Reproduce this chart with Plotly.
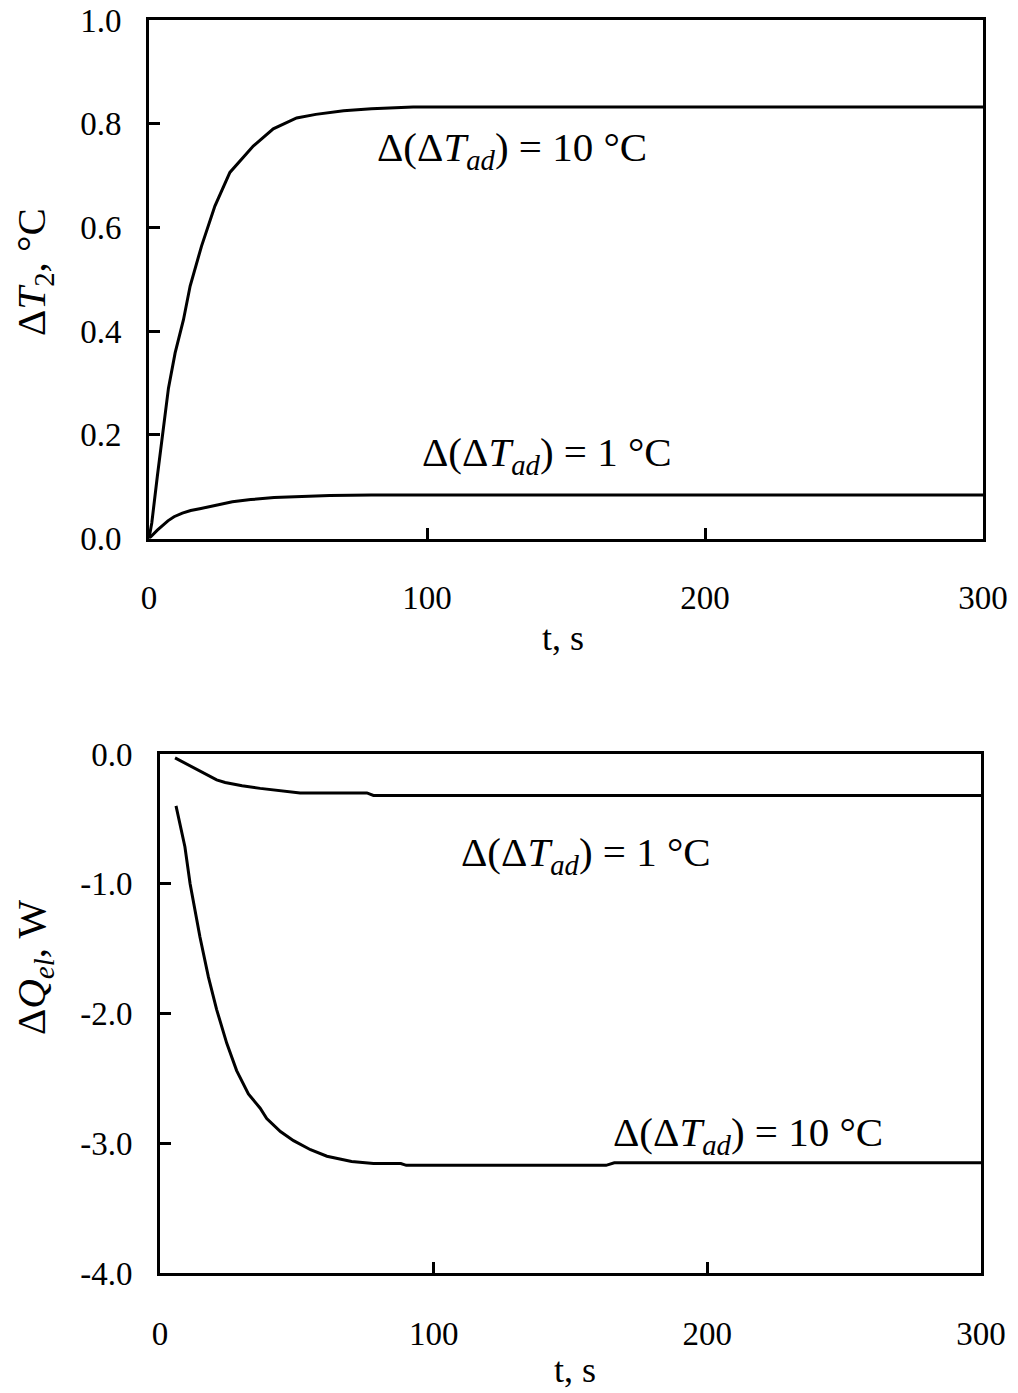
import plotly.graph_objects as go

W, H = 1018, 1393
OFF = 0  # body margin removed via post_script

# ---- data: top panel (ΔT2, °C) ----
t_top_10 = [0, 1, 3, 5, 7, 9.4, 12.4, 14.8, 18.9, 23.7, 29.1, 37.5, 44.7, 53.1, 60, 70, 80, 95, 150, 200, 250, 300]
dT2_10 = [0, 0.03, 0.12, 0.21, 0.29, 0.358, 0.422, 0.487, 0.564, 0.641, 0.706, 0.757, 0.790, 0.811, 0.818, 0.825, 0.829, 0.832, 0.832, 0.832, 0.832, 0.832]

t_top_1 = [0, 3, 6.8, 9, 12, 15, 18.7, 25, 30, 36.6, 45, 55, 65, 80, 100, 150, 200, 250, 300]
dT2_1 = [0, 0.016, 0.034, 0.042, 0.049, 0.054, 0.058, 0.066, 0.071, 0.075, 0.079, 0.081, 0.083, 0.084, 0.084, 0.084, 0.084, 0.084, 0.084]

# ---- data: bottom panel (ΔQel, W) ----
t_bot_1 = [5.5, 10, 15, 20.7, 23.8, 30, 36.6, 45, 51.2, 55, 75.6, 78, 120, 200, 300]
dQ_1 = [-0.03, -0.08, -0.14, -0.20, -0.22, -0.245, -0.265, -0.285, -0.30, -0.30, -0.30, -0.32, -0.32, -0.32, -0.32]

t_bot_10 = [5.85, 9.1, 11, 14.6, 17.7, 20.7, 24.4, 28, 32.3, 36.6, 39, 44, 48.8, 55, 61, 70, 78, 88, 90, 163, 166, 200, 250, 300]
dQ_10 = [-0.40, -0.715, -1.0, -1.41, -1.72, -1.97, -2.23, -2.44, -2.62, -2.73, -2.81, -2.91, -2.98, -3.05, -3.10, -3.14, -3.156, -3.156, -3.17, -3.17, -3.15, -3.15, -3.15, -3.15]

x_ticks = [0, 100, 200, 300]
y_top_ticks = [0.0, 0.2, 0.4, 0.6, 0.8, 1.0]
y_top_text = ["0.0", "0.2", "0.4", "0.6", "0.8", "1.0"]
y_bot_ticks = [0.0, -1.0, -2.0, -3.0, -4.0]
y_bot_text = ["0.0", "-1.0", "-2.0", "-3.0", "-4.0"]

FONT = "Liberation Serif"

def px_x(p):
    return (p - OFF) / W

def px_y(p):
    return 1 - (p - OFF) / H

fig = go.Figure()
line = dict(color="black", width=3)
fig.add_trace(go.Scatter(x=t_top_10, y=dT2_10, mode="lines", line=line, xaxis="x", yaxis="y"))
fig.add_trace(go.Scatter(x=t_top_1, y=dT2_1, mode="lines", line=line, xaxis="x", yaxis="y"))
fig.add_trace(go.Scatter(x=t_bot_1, y=dQ_1, mode="lines", line=line, xaxis="x2", yaxis="y2"))
fig.add_trace(go.Scatter(x=t_bot_10, y=dQ_10, mode="lines", line=line, xaxis="x2", yaxis="y2"))

axis_common = dict(
    showline=True, linecolor="black", linewidth=3, mirror=True,
    ticks="inside", ticklen=11, tickwidth=3, tickcolor="black",
    showgrid=False, zeroline=False, automargin=False,
    ticklabeloverflow="allow",
    tickfont=dict(family=FONT, size=33, color="black"),
)

fig.update_layout(
    width=W, height=H,
    margin=dict(l=0, r=0, t=0, b=0),
    paper_bgcolor="white", plot_bgcolor="white",
    showlegend=False,
    font=dict(family=FONT, color="black"),
    xaxis=dict(domain=[px_x(149), px_x(983)], range=[0, 300], tickvals=x_ticks,
               anchor="y", ticklabelstandoff=28, **axis_common),
    yaxis=dict(domain=[px_y(538.5), px_y(20)], range=[0, 1.0], tickvals=y_top_ticks,
               ticktext=y_top_text, anchor="x", ticklabelstandoff=18, **axis_common),
    xaxis2=dict(domain=[px_x(160), px_x(981)], range=[0, 300], tickvals=x_ticks,
                anchor="y2", ticklabelstandoff=29, **axis_common),
    yaxis2=dict(domain=[px_y(1273), px_y(754)], range=[-4.0, 0.0], tickvals=y_bot_ticks,
                ticktext=y_bot_text, anchor="x2", ticklabelstandoff=18, **axis_common),
)

ann_font = dict(family=FONT, size=41, color="black")
title_font = dict(family=FONT, size=36, color="black")

annotations = [
    dict(x=130.7, y=0.75, xref="x", yref="y", text="Δ(Δ<i>T<sub>ad</sub></i>) = 10 °C"),
    dict(x=143, y=0.161, xref="x", yref="y", text="Δ(Δ<i>T<sub>ad</sub></i>) = 1 °C"),
    dict(x=155.5, y=-0.78, xref="x2", yref="y2", text="Δ(Δ<i>T<sub>ad</sub></i>) = 1 °C"),
    dict(x=214.8, y=-2.94, xref="x2", yref="y2", text="Δ(Δ<i>T<sub>ad</sub></i>) = 10 °C"),
]
for a in annotations:
    fig.add_annotation(showarrow=False, font=ann_font, xanchor="center", yanchor="middle", **a)

# axis titles
fig.add_annotation(x=px_x(563), y=px_y(638), xref="paper", yref="paper", text="t, s",
                   showarrow=False, font=title_font, xanchor="center", yanchor="middle")
fig.add_annotation(x=px_x(575), y=px_y(1370), xref="paper", yref="paper", text="t, s",
                   showarrow=False, font=title_font, xanchor="center", yanchor="middle")
fig.add_annotation(x=px_x(34), y=px_y(272), xref="paper", yref="paper", text="Δ<i>T</i><sub>2</sub>, °C",
                   showarrow=False, font=ann_font, xanchor="center", yanchor="middle", textangle=-90)
fig.add_annotation(x=px_x(34), y=px_y(968), xref="paper", yref="paper", text="Δ<i>Q<sub>el</sub></i>, W",
                   showarrow=False, font=ann_font, xanchor="center", yanchor="middle", textangle=-90)

fig.write_html("out.html", config={"displayModeBar": False},
               post_script="document.body.style.margin='0';document.body.style.overflow='hidden';")
